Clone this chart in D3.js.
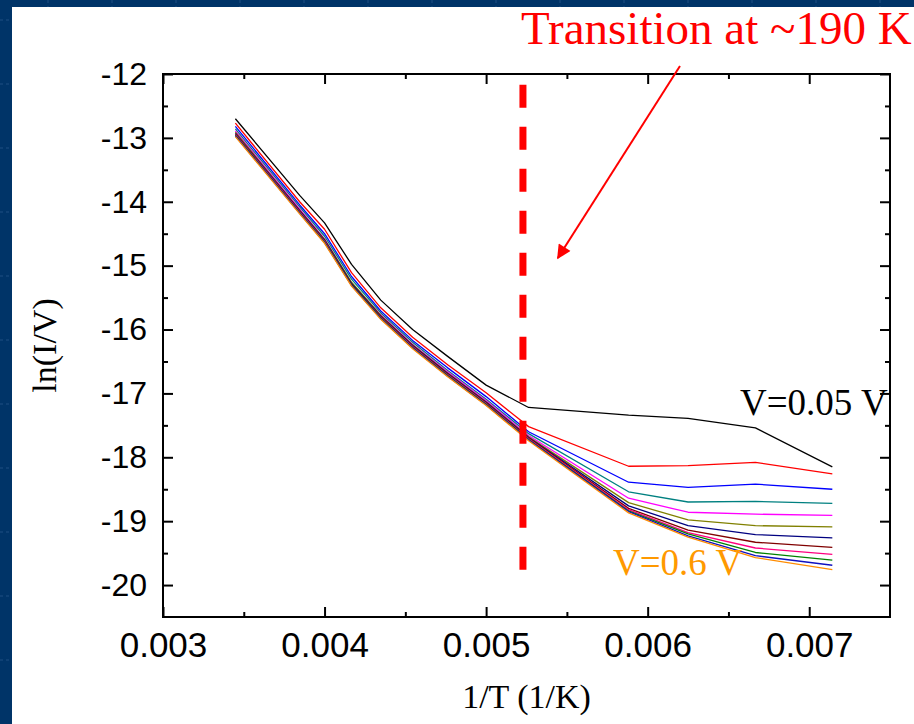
<!DOCTYPE html>
<html>
<head>
<meta charset="utf-8">
<script src="https://cdn.jsdelivr.net/npm/d3@7/dist/d3.min.js"></script>
<style>
  html, body { margin: 0; padding: 0; background: #003468; }
  svg { display: block; }
</style>
</head>
<body>
<svg id="chart"></svg>
<script>
// data: 1/T points (T = 290 ... 140 K) and ln(I/V) for each bias voltage
const invT = [0.003448, 0.003846, 0.004, 0.004167, 0.004348, 0.004545, 0.004762,
              0.005, 0.005263, 0.005882, 0.00625, 0.006667, 0.007143];

const v005 = [-12.70, -13.90, -14.33, -14.98, -15.54, -16.00, -16.42, -16.87, -17.22, -17.34, -17.39, -17.54, -18.15];
const v010 = [-12.77, -14.00, -14.43, -15.11, -15.66, -16.12, -16.55, -16.99, -17.52, -18.14, -18.13, -18.08, -18.26];
const v015 = [-12.82, -14.05, -14.50, -15.17, -15.71, -16.17, -16.60, -17.05, -17.60, -18.39, -18.47, -18.42, -18.50];
const v020 = [-12.86, -14.08, -14.54, -15.21, -15.74, -16.20, -16.64, -17.09, -17.63, -18.54, -18.70, -18.69, -18.72];
const v025 = [-12.89, -14.11, -14.58, -15.27, -15.77, -16.23, -16.66, -17.11, -17.66, -18.64, -18.86, -18.89, -18.91];
const v030 = [-12.91, -14.13, -14.59, -15.26, -15.78, -16.24, -16.68, -17.13, -17.68, -18.71, -18.98, -19.07, -19.09];
const v035 = [-12.93, -14.14, -14.60, -15.28, -15.79, -16.25, -16.69, -17.14, -17.69, -18.76, -19.07, -19.21, -19.26];
const v040 = [-12.94, -14.15, -14.61, -15.29, -15.80, -16.26, -16.70, -17.15, -17.70, -18.80, -19.14, -19.33, -19.41];
const v045 = [-12.95, -14.16, -14.62, -15.31, -15.81, -16.27, -16.71, -17.16, -17.71, -18.82, -19.18, -19.42, -19.52];
const v050 = [-12.96, -14.17, -14.63, -15.30, -15.82, -16.28, -16.72, -17.17, -17.72, -18.84, -19.20, -19.49, -19.61];
const v055 = [-12.97, -14.18, -14.64, -15.31, -15.83, -16.29, -16.73, -17.18, -17.73, -18.85, -19.23, -19.54, -19.69];
const v060 = [-12.98, -14.19, -14.65, -15.32, -15.84, -16.30, -16.74, -17.19, -17.74, -18.87, -19.25, -19.57, -19.76];

const seriesValues = [v005, v010, v015, v020, v025, v030, v035, v040, v045, v050, v055, v060];
const seriesColors = ['#000000', '#ff0000', '#0000ff', '#008080', '#ff00ff', '#808000',
                      '#000080', '#800000', '#ff0080', '#008000', '#1010c0', '#ff8c00'];

const xTicks = [0.003, 0.004, 0.005, 0.006, 0.007];
const xMinor = [0.0035, 0.0045, 0.0055, 0.0065];
const yTicks = [-12, -13, -14, -15, -16, -17, -18, -19, -20];
const yMinor = [-12.5, -13.5, -14.5, -15.5, -16.5, -17.5, -18.5, -19.5];

// annotation: transition line and arrow (data coords)
const transitionX = 0.005228;
const transitionY = [-12.17, -19.81];
const arrowFrom = [0.0062, -11.875];
const arrowTo = [0.005444, -14.88];

// ---- layout
const width = 914;
const height = 724;
const plot = { left: 163, right: 890, top: 74, bottom: 617 };

const svg = d3.select('#chart')
  .attr('width', width)
  .attr('height', height);

// dark blue slide background with faint grid
const bg = svg.append('g');
bg.append('rect').attr('width', width).attr('height', height).attr('fill', '#003468');
for (let gx = 48; gx < width; gx += 64) {
  bg.append('line').attr('x1', gx).attr('x2', gx).attr('y1', 0).attr('y2', height)
    .attr('stroke', '#1f4f82').attr('stroke-width', 1).attr('stroke-dasharray', '3,3');
}
for (let gy = 20; gy < height; gy += 64) {
  bg.append('line').attr('x1', 0).attr('x2', width).attr('y1', gy).attr('y2', gy)
    .attr('stroke', '#1f4f82').attr('stroke-width', 1).attr('stroke-dasharray', '3,3');
}
svg.append('rect')
  .attr('x', 12).attr('y', 7)
  .attr('width', width - 12).attr('height', height - 7)
  .attr('fill', '#ffffff');

const x = d3.scaleLinear().domain([0.003, 0.0075]).range([plot.left, plot.right]);
const y = d3.scaleLinear().domain([-20.5, -12]).range([plot.bottom, plot.top]);

const sansFont = '"Liberation Sans", Arial, sans-serif';
const serifFont = '"Liberation Serif", "Times New Roman", serif';

// axes (ticks pointing inwards)
function styleAxis(size) {
  return function(g) {
    g.select('.domain').remove();
    g.selectAll('line').attr('stroke', '#000').attr('stroke-width', 2);
    g.selectAll('text').attr('fill', '#000').style('font-family', sansFont).style('font-size', size);
  };
}

svg.append('g')
  .attr('transform', `translate(0,${plot.bottom})`)
  .call(d3.axisBottom(x).tickValues(xTicks).tickSize(-10).tickSizeOuter(0).tickPadding(15)
    .tickFormat(d3.format('.3f')))
  .call(styleAxis('35px'));
svg.append('g')
  .attr('transform', `translate(0,${plot.bottom})`)
  .call(d3.axisBottom(x).tickValues(xMinor).tickSize(-5).tickSizeOuter(0).tickFormat(''))
  .call(styleAxis('32px'));
svg.append('g')
  .attr('transform', `translate(0,${plot.top})`)
  .call(d3.axisTop(x).tickValues(xTicks).tickSize(-10).tickSizeOuter(0).tickFormat(''))
  .call(styleAxis('32px'));
svg.append('g')
  .attr('transform', `translate(0,${plot.top})`)
  .call(d3.axisTop(x).tickValues(xMinor).tickSize(-5).tickSizeOuter(0).tickFormat(''))
  .call(styleAxis('32px'));

svg.append('g')
  .attr('transform', `translate(${plot.left},0)`)
  .call(d3.axisLeft(y).tickValues(yTicks).tickSize(-10).tickSizeOuter(0).tickPadding(16)
    .tickFormat(d => d.toString().replace('\u2212', '-')))
  .call(styleAxis('32px'));
svg.append('g')
  .attr('transform', `translate(${plot.left},0)`)
  .call(d3.axisLeft(y).tickValues(yMinor).tickSize(-5).tickSizeOuter(0).tickFormat(''))
  .call(styleAxis('32px'));
svg.append('g')
  .attr('transform', `translate(${plot.right},0)`)
  .call(d3.axisRight(y).tickValues(yTicks).tickSize(-10).tickSizeOuter(0).tickFormat(''))
  .call(styleAxis('32px'));
svg.append('g')
  .attr('transform', `translate(${plot.right},0)`)
  .call(d3.axisRight(y).tickValues(yMinor).tickSize(-5).tickSizeOuter(0).tickFormat(''))
  .call(styleAxis('32px'));

// frame
svg.append('rect')
  .attr('x', plot.left).attr('y', plot.top)
  .attr('width', plot.right - plot.left).attr('height', plot.bottom - plot.top)
  .attr('fill', 'none').attr('stroke', '#000').attr('stroke-width', 2);

// data lines
const line = d3.line()
  .x((d, i) => x(invT[i]))
  .y(d => y(d));

svg.append('g')
  .selectAll('path')
  .data(seriesValues)
  .enter()
  .append('path')
  .attr('d', line)
  .attr('fill', 'none')
  .attr('stroke', (d, i) => seriesColors[i])
  .attr('stroke-width', 1.3)
  .attr('stroke-linejoin', 'round');

// transition marker
svg.append('line')
  .attr('x1', x(transitionX)).attr('x2', x(transitionX))
  .attr('y1', y(transitionY[0])).attr('y2', y(transitionY[1]))
  .attr('stroke', '#ff0000')
  .attr('stroke-width', 7)
  .attr('stroke-dasharray', '23,19');

svg.append('defs').append('marker')
  .attr('id', 'arrowhead')
  .attr('viewBox', '0 0 10 10')
  .attr('refX', 9).attr('refY', 5)
  .attr('markerWidth', 9).attr('markerHeight', 7)
  .attr('markerUnits', 'strokeWidth')
  .attr('orient', 'auto')
  .append('path')
  .attr('d', 'M0,0 L10,5 L0,10 Z')
  .attr('fill', '#ff0000');

svg.append('line')
  .attr('x1', x(arrowFrom[0])).attr('y1', y(arrowFrom[1]))
  .attr('x2', x(arrowTo[0])).attr('y2', y(arrowTo[1]))
  .attr('stroke', '#ff0000')
  .attr('stroke-width', 2)
  .attr('marker-end', 'url(#arrowhead)');

// text annotations
svg.append('text')
  .attr('x', 521).attr('y', 44)
  .attr('fill', '#ff0000')
  .style('font-family', serifFont).style('font-size', '47px')
  .text('Transition at ~190 K');

svg.append('text')
  .attr('x', 740).attr('y', 415)
  .attr('fill', '#000')
  .style('font-family', serifFont).style('font-size', '37px')
  .text('V=0.05 V');

svg.append('text')
  .attr('x', 613).attr('y', 575)
  .attr('fill', '#ff9900')
  .style('font-family', serifFont).style('font-size', '37px')
  .text('V=0.6 V');

// axis titles
svg.append('text')
  .attr('x', (plot.left + plot.right) / 2).attr('y', 708)
  .attr('text-anchor', 'middle')
  .attr('fill', '#000')
  .style('font-family', serifFont).style('font-size', '34px')
  .text('1/T (1/K)');

svg.append('text')
  .attr('transform', `translate(56,${(plot.top + plot.bottom) / 2}) rotate(-90)`)
  .attr('text-anchor', 'middle')
  .attr('fill', '#000')
  .style('font-family', serifFont).style('font-size', '34px')
  .text('ln(I/V)');
</script>
</body>
</html>
